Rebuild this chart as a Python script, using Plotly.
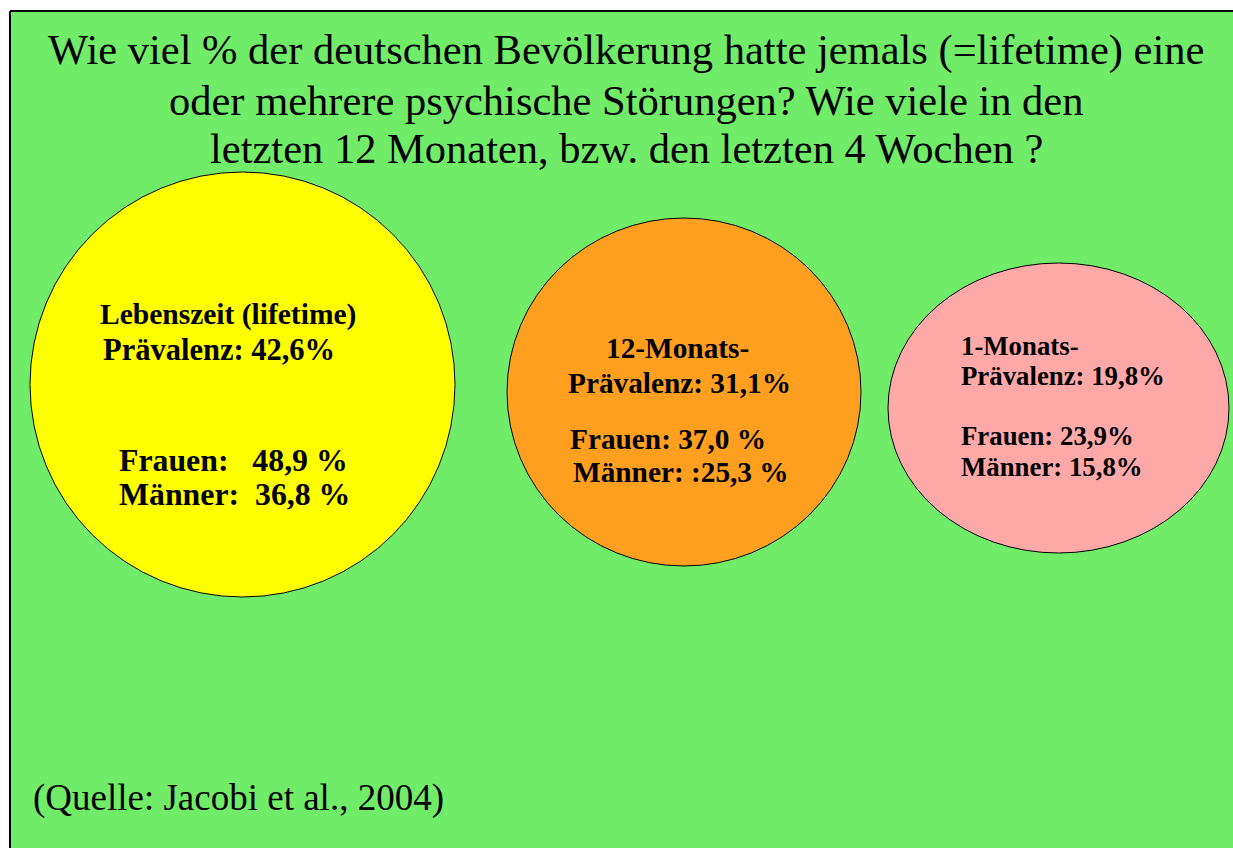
import plotly.graph_objects as go

# ---- data ----
title_lines = [
    "Wie viel % der deutschen Bevölkerung hatte jemals (=lifetime) eine",
    "oder mehrere psychische Störungen? Wie viele in den",
    "letzten 12 Monaten, bzw. den letzten 4 Wochen ?",
]
source_text = "(Quelle: Jacobi et al., 2004)"
periods = ["Lebenszeit (lifetime)", "12-Monats-", "1-Monats-"]
prevalence = [42.6, 31.1, 19.8]
women = [48.9, 37.0, 23.9]
men = [36.8, 25.3, 15.8]


def de(v):
    return f"{v:.1f}".replace(".", ",")


# texts built from the data (spacing as in the original slide)
line1 = [periods[0], periods[1], periods[2]]
line2 = [f"Prävalenz: {de(p)}%" for p in prevalence]
line3 = [f"Frauen:   {de(women[0])} %", f"Frauen: {de(women[1])} %", f"Frauen: {de(women[2])}%"]
line4 = [f"Männer:  {de(men[0])} %", f"Männer: :{de(men[1])} %", f"Männer: {de(men[2])}%"]

# ---- styles / layout ----
W, H = 1233, 848
EXTRA = 20  # canvas slightly wider than the window so the slide runs off the right edge
FW = W + EXTRA
GREEN = "#70EC68"
circle_colors = ["#FFFF00", "#FF9F1F", "#FFA8A8"]
# ellipse boxes (x0, y0, x1, y1)
circle_boxes = [(30, 172, 455, 597), (507, 218, 861, 566), (888, 263, 1229, 553)]
SERIF = "Liberation Serif, Times New Roman, serif"

fig = go.Figure()

shapes = [
    dict(type="rect", xref="x", yref="y", x0=10, y0=11, x1=FW, y1=H,
         fillcolor=GREEN, line=dict(width=0), layer="below"),
    dict(type="line", xref="x", yref="y", x0=10, y0=11, x1=FW, y1=11,
         line=dict(color="black", width=2), layer="below"),
    dict(type="line", xref="x", yref="y", x0=10, y0=11, x1=10, y1=H,
         line=dict(color="black", width=2), layer="below"),
]
for (x0, y0, x1, y1), c in zip(circle_boxes, circle_colors):
    shapes.append(dict(type="circle", xref="x", yref="y", x0=x0, y0=y0, x1=x1, y1=y1,
                       fillcolor=c, line=dict(color="black", width=1), layer="below"))

annotations = []
title_y = [50, 100, 148]
for t, yy in zip(title_lines, title_y):
    annotations.append(dict(text=t, x=626, y=yy, xref="x", yref="y", showarrow=False,
                            xanchor="center", yanchor="middle",
                            font=dict(family=SERIF, size=42.5, color="black")))

annotations.append(dict(text=source_text, x=31, y=798, xref="x", yref="y", showarrow=False,
                        xanchor="left", yanchor="middle",
                        font=dict(family=SERIF, size=37, color="black")))

# circle text: (text, x, y, anchor, size)
specs = [
    # yellow
    (line1[0], 98, 314, "left", 29.5),
    (line2[0], 101, 350, "left", 30.5),
    (line3[0], 117, 460, "left", 31.8),
    (line4[0], 117, 494, "left", 31.8),
    # orange
    (line1[1], 677, 348, "center", 29.3),
    (line2[1], 566, 383, "left", 29.3),
    (line3[1], 568, 439, "left", 29.3),
    (line4[1], 571, 472, "left", 29.3),
    # pink
    (line1[2], 959, 346, "left", 26.8),
    (line2[2], 959, 376, "left", 26.8),
    (line3[2], 959, 436, "left", 26.8),
    (line4[2], 959, 467, "left", 26.8),
]
for t, xx, yy, anc, sz in specs:
    annotations.append(dict(text=f"<b>{t}</b>", x=xx, y=yy, xref="x", yref="y",
                            showarrow=False, xanchor=anc, yanchor="middle",
                            font=dict(family=SERIF, size=sz, color="black")))

fig.update_layout(
    width=FW, height=H,
    margin=dict(l=0, r=0, t=0, b=0, pad=0),
    paper_bgcolor="white", plot_bgcolor="rgba(0,0,0,0)",
    xaxis=dict(range=[0, FW], visible=False, fixedrange=True, showline=False, zeroline=False),
    yaxis=dict(range=[H, 0], visible=False, fixedrange=True, showline=False, zeroline=False),
    shapes=shapes, annotations=annotations, showlegend=False,
)

fig.write_html("out.html", config={"displayModeBar": False},
               post_script="document.body.style.margin='0';document.body.style.overflow='hidden';")
